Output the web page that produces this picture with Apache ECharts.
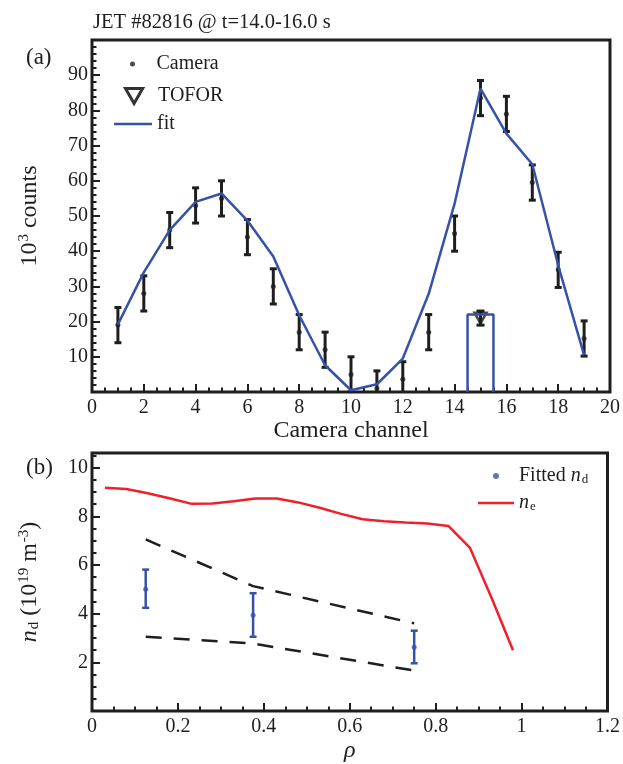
<!DOCTYPE html>
<html>
<head>
<meta charset="utf-8">
<script src="https://cdn.jsdelivr.net/npm/echarts@6/dist/echarts.min.js"></script>
<style>
  html, body { margin: 0; padding: 0; background: #fff; }
  #main { width: 623px; height: 764px; }
</style>
</head>
<body>
<div id="main"></div>
<script>
// panel (a): camera counts per channel
const camChannel = [1, 2, 3, 4, 5, 6, 7, 8, 9, 10, 11, 12, 13, 14, 15, 16, 17, 18, 19];
const camCounts = [19, 28, 46, 53, 55, 44, 30, 17, 12, 5, 1, 3.6, 17, 45, 83.5, 79, 59.5, 34.7, 15.2];
const camErr = [5, 5, 5, 5, 5, 5, 5, 5, 5, 5, 5, 5, 5, 5, 5, 5, 5, 5, 5];
const fitCounts = [19.2, 34, 46, 54, 56.4, 48.7, 38.5, 21.8, 7.6, 0.5, 2.2, 9.5, 27.9, 53.5, 86.2, 73.4, 64.7, 36, 10.5];
const toforChannel = [15];
const toforCounts = [21];
const toforErr = [2];
const toforBoxX = [14.5, 14.5, 15.5, 15.5];
const toforBoxY = [0, 22, 22, 0];

// panel (b): densities vs rho
const ndRho = [0.125, 0.375, 0.75];
const nd = [5.0, 3.93, 2.62];
const ndLo = [4.24, 3.05, 1.96];
const ndHi = [5.81, 4.84, 3.3];
const boundRho = [0.125, 0.375, 0.75];
const boundUpper = [7.05, 5.13, 3.6];
const boundLower = [3.05, 2.77, 1.66];
const neRho = [0.03, 0.08, 0.13, 0.18, 0.23, 0.28, 0.33, 0.38, 0.43, 0.48, 0.53, 0.58, 0.63, 0.68, 0.73, 0.78, 0.83, 0.88, 0.93, 0.98];
const ne = [9.17, 9.12, 8.95, 8.74, 8.52, 8.53, 8.62, 8.73, 8.73, 8.57, 8.35, 8.1, 7.88, 7.8, 7.74, 7.7, 7.6, 6.7, 4.65, 2.5];

const FONT = 'Liberation Serif';
const INK = '#1e1e1e';
const BLUE = '#3452a8';
const RED = '#f0202a';

function pairs(xs, ys) {
    return xs.map((x, i) => [x, ys[i]]);
}

function errorBar(color, cap, width) {
    return function (params, api) {
        let x = api.value(0);
        let lo = api.coord([x, api.value(1)]);
        let hi = api.coord([x, api.value(2)]);
        let style = { stroke: color, lineWidth: width };
        return {
            type: 'group',
            children: [
                { type: 'line', shape: { x1: lo[0], y1: lo[1], x2: hi[0], y2: hi[1] }, style: style },
                { type: 'line', shape: { x1: lo[0] - cap, y1: lo[1], x2: lo[0] + cap, y2: lo[1] }, style: style },
                { type: 'line', shape: { x1: hi[0] - cap, y1: hi[1], x2: hi[0] + cap, y2: hi[1] }, style: style }
            ]
        };
    };
}

function axisBase(extra) {
    return Object.assign({
        type: 'value',
        axisLine: { show: false },
        splitLine: { show: false },
        axisTick: { show: true, inside: true, length: 8, lineStyle: { color: INK, width: 2 } },
        minorTick: { show: true, length: 4.5, lineStyle: { color: INK, width: 2 } },
        axisLabel: { color: INK, fontFamily: FONT, fontSize: 20, margin: 6 }
    }, extra);
}

const legendText = { color: INK, fontFamily: FONT, fontSize: 20 };
const richText = {
    r: { fontFamily: FONT, fontSize: 20, color: INK },
    i: { fontFamily: FONT, fontSize: 20, fontStyle: 'italic', color: INK },
    s: { fontFamily: FONT, fontSize: 13, color: INK, padding: [8, 0, 0, 1] }
};

let myChart = echarts.init(document.querySelector('#main'));
let option = {
    animation: false,
    backgroundColor: '#fff',
    title: [
        { text: 'JET #82816 @ t=14.0-16.0 s', left: 88, top: 7, textStyle: { color: INK, fontFamily: FONT, fontSize: 20.5, fontWeight: 'normal' } },
        { text: '(a)', left: 21, top: 41, textStyle: { color: INK, fontFamily: FONT, fontSize: 23, fontWeight: 'normal' } },
        { text: '(b)', left: 21, top: 451, textStyle: { color: INK, fontFamily: FONT, fontSize: 23, fontWeight: 'normal' } }
    ],
    legend: [
        { left: 130, top: 54, padding: 0, itemWidth: 38, itemHeight: 5, textStyle: legendText,
          data: [{ name: 'Camera', icon: 'circle', itemStyle: { color: INK } }] },
        { left: 124, top: 86, padding: 0, itemWidth: 38, itemHeight: 15, textStyle: legendText,
          data: [{ name: 'TOFOR', icon: 'path://M0,0 L16,0 L8,14 Z', itemStyle: { color: 'rgba(0,0,0,0)', borderColor: '#000', borderWidth: 3 } }] },
        { left: 114, top: 114, padding: 0, itemWidth: 38, itemHeight: 2.5, textStyle: legendText,
          data: [{ name: 'fit', icon: 'rect', itemStyle: { color: BLUE, borderWidth: 0 } }] },
        { left: 493, top: 466, padding: 0, itemWidth: 36, itemHeight: 6, textStyle: { rich: richText },
          formatter: () => '{r|Fitted }{i|n}{s|d}',
          data: [{ name: 'Fitted nd', icon: 'circle', itemStyle: { color: BLUE } }] },
        { left: 478, top: 493, padding: 0, itemWidth: 36, itemHeight: 2.5, textStyle: { rich: richText },
          formatter: () => '{i|n}{s|e}',
          data: [{ name: 'ne', icon: 'rect', itemStyle: { color: RED, borderWidth: 0 } }] }
    ],
    grid: [
        { left: 92, top: 40, width: 520, height: 352, show: true, borderColor: INK, borderWidth: 3 },
        { left: 92, top: 453, width: 520, height: 264, show: true, borderColor: INK, borderWidth: 3 }
    ],
    xAxis: [
        axisBase({
            gridIndex: 0, min: 0, max: 20, interval: 2,
            minorTick: { show: true, splitNumber: 4, length: 4.5, lineStyle: { color: INK, width: 2 } },
            name: 'Camera channel', nameLocation: 'middle', nameGap: 27,
            nameTextStyle: { color: INK, fontFamily: FONT, fontSize: 24 }
        }),
        axisBase({
            gridIndex: 1, min: 0, max: 1.2, interval: 0.2,
            minorTick: { show: true, splitNumber: 4, length: 4.5, lineStyle: { color: INK, width: 2 } },
            name: 'ρ', nameLocation: 'middle', nameGap: 28,
            nameTextStyle: { color: INK, fontFamily: FONT, fontSize: 24, fontStyle: 'italic' }
        })
    ],
    yAxis: [
        axisBase({
            gridIndex: 0, min: 0, max: 100, interval: 10,
            minorTick: { show: true, splitNumber: 5, length: 4.5, lineStyle: { color: INK, width: 2 } },
            axisLabel: { color: INK, fontFamily: FONT, fontSize: 20, margin: 4,
                formatter: v => (v === 0 || v === 100) ? '' : v },
            name: '{a|10}{p|3}{a| counts}', nameLocation: 'middle', nameRotate: 90, nameGap: 50,
            nameTextStyle: {
                rich: {
                    a: { fontFamily: FONT, fontSize: 24, color: INK },
                    p: { fontFamily: FONT, fontSize: 15, color: INK, padding: [0, 0, 10, 1] }
                }
            }
        }),
        axisBase({
            gridIndex: 1, min: 0, max: 10.6, interval: 2,
            minorTick: { show: true, splitNumber: 4, length: 4.5, lineStyle: { color: INK, width: 2 } },
            axisLabel: { color: INK, fontFamily: FONT, fontSize: 20, margin: 4,
                formatter: v => {
                    let r = Math.round(v);
                    return (Math.abs(v - r) < 1e-6 && r > 0 && r % 2 === 0) ? r : '';
                } },
            name: '{i|n}{s|d}{a| (10}{p|19}{a| m}{p|-3}{a|)}', nameLocation: 'middle', nameRotate: 90, nameGap: 50,
            nameTextStyle: {
                rich: {
                    a: { fontFamily: FONT, fontSize: 24, color: INK },
                    i: { fontFamily: FONT, fontSize: 24, fontStyle: 'italic', color: INK },
                    s: { fontFamily: FONT, fontSize: 15, color: INK, padding: [10, 0, 0, 1] },
                    p: { fontFamily: FONT, fontSize: 15, color: INK, padding: [0, 0, 10, 1] }
                }
            }
        })
    ],
    series: [
        {
            name: 'TOFOR box', type: 'line', xAxisIndex: 0, yAxisIndex: 0,
            data: pairs(toforBoxX, toforBoxY), symbol: 'none', silent: true,
            lineStyle: { color: BLUE, width: 2.5 }
        },
        {
            name: 'fit', type: 'line', xAxisIndex: 0, yAxisIndex: 0,
            data: pairs(camChannel, fitCounts), symbol: 'none',
            lineStyle: { color: BLUE, width: 2.5 }, itemStyle: { color: BLUE }
        },
        {
            name: 'Camera err', type: 'custom', xAxisIndex: 0, yAxisIndex: 0, clip: true,
            renderItem: errorBar(INK, 3.5, 3),
            encode: { x: 0, y: [1, 2] },
            data: camChannel.map((c, i) => [c, camCounts[i] - camErr[i], camCounts[i] + camErr[i]])
        },
        {
            name: 'Camera', type: 'scatter', xAxisIndex: 0, yAxisIndex: 0,
            data: pairs(camChannel, camCounts), symbol: 'circle', symbolSize: 5,
            itemStyle: { color: INK }
        },
        {
            name: 'TOFOR err', type: 'custom', xAxisIndex: 0, yAxisIndex: 0, clip: true,
            renderItem: errorBar(INK, 4, 3),
            encode: { x: 0, y: [1, 2] },
            data: toforChannel.map((c, i) => [c, toforCounts[i] - toforErr[i], toforCounts[i] + toforErr[i]])
        },
        {
            name: 'TOFOR', type: 'scatter', xAxisIndex: 0, yAxisIndex: 0,
            data: pairs(toforChannel, toforCounts), symbol: 'path://M0,0 L16,0 L8,14 Z', symbolSize: [12, 11],
            itemStyle: { color: 'rgba(0,0,0,0)', borderColor: INK, borderWidth: 2.5 }
        },
        {
            name: 'ne', type: 'line', xAxisIndex: 1, yAxisIndex: 1,
            data: pairs(neRho, ne), symbol: 'none',
            lineStyle: { color: RED, width: 2.5 }, itemStyle: { color: RED }
        },
        {
            name: 'upper bound', type: 'line', xAxisIndex: 1, yAxisIndex: 1,
            data: pairs(boundRho, boundUpper), symbol: 'none',
            lineStyle: { color: INK, width: 2.5, type: [16, 12] }
        },
        {
            name: 'lower bound', type: 'line', xAxisIndex: 1, yAxisIndex: 1,
            data: pairs(boundRho, boundLower), symbol: 'none',
            lineStyle: { color: INK, width: 2.5, type: [16, 12] }
        },
        {
            name: 'Fitted nd err', type: 'custom', xAxisIndex: 1, yAxisIndex: 1, clip: true,
            renderItem: errorBar(BLUE, 3.5, 2.5),
            encode: { x: 0, y: [1, 2] },
            data: ndRho.map((r, i) => [r, ndLo[i], ndHi[i]])
        },
        {
            name: 'Fitted nd', type: 'scatter', xAxisIndex: 1, yAxisIndex: 1,
            data: pairs(ndRho, nd), symbol: 'circle', symbolSize: 5,
            itemStyle: { color: BLUE }
        }
    ]
};
myChart.setOption(option);
</script>
</body>
</html>
